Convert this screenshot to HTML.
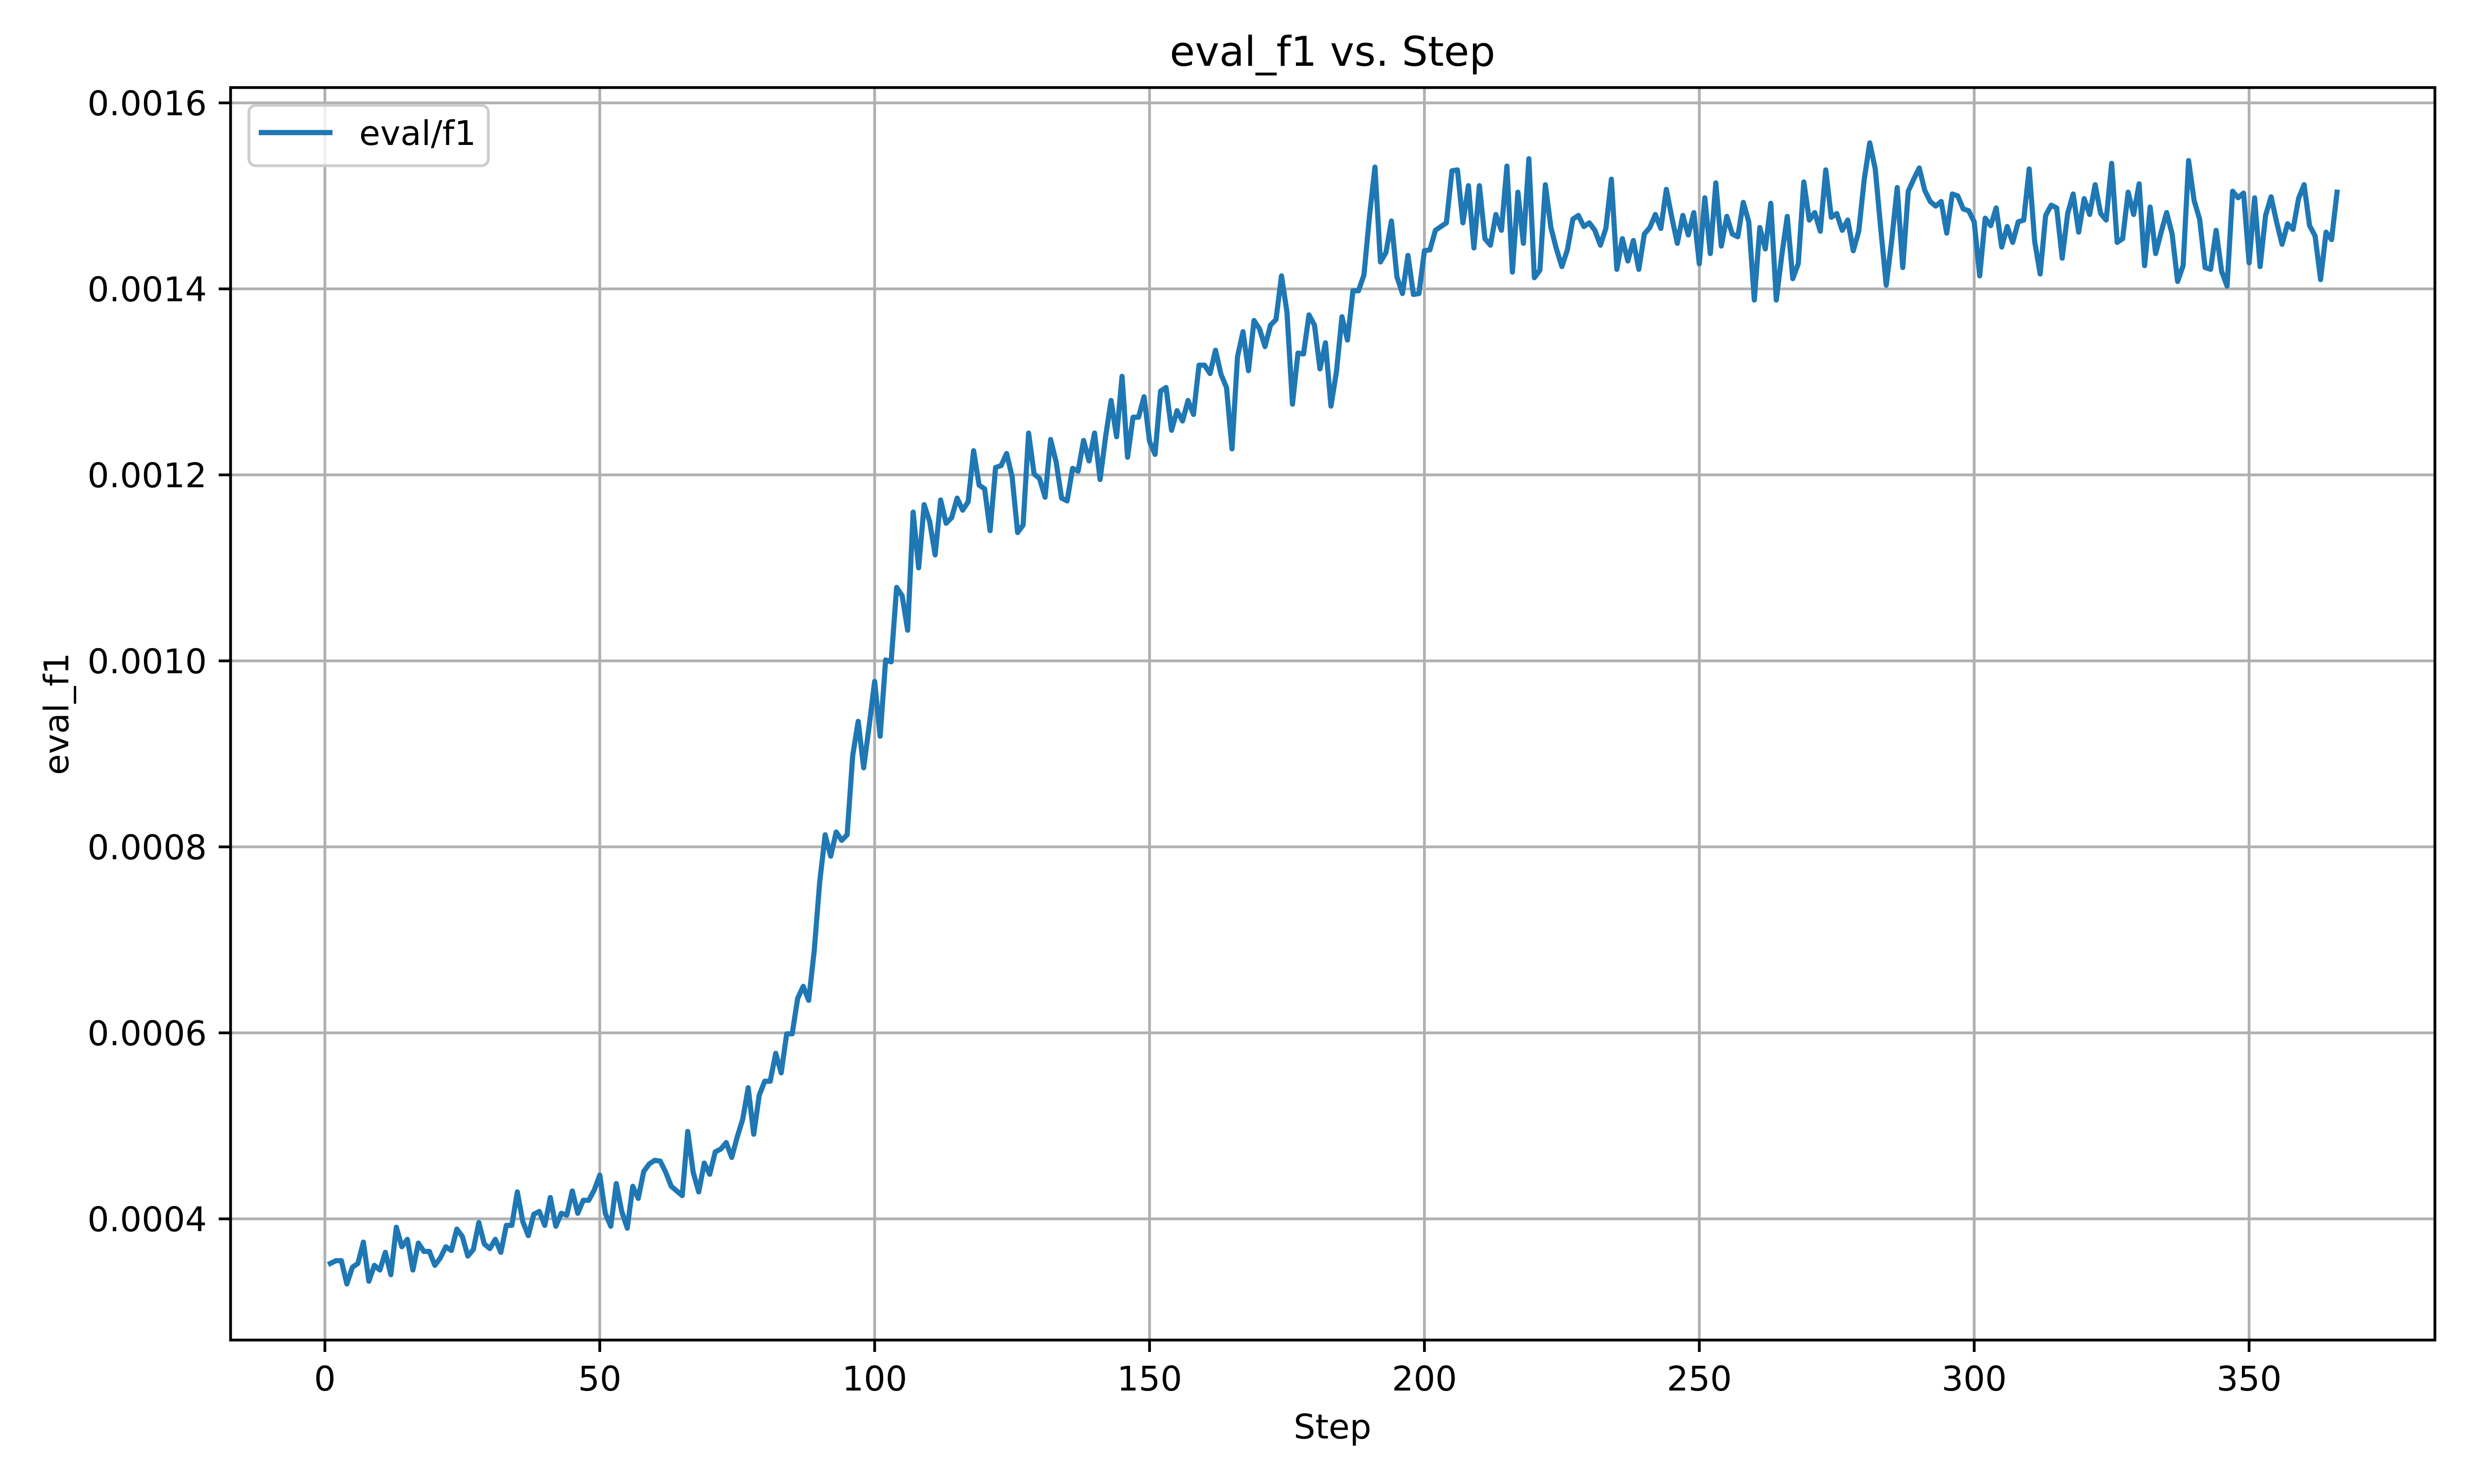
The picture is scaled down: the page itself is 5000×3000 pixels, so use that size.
<!DOCTYPE html>
<html><head><meta charset="utf-8"><style>
html,body{margin:0;padding:0;background:#fff}
svg{display:block}
text{font-family:"DejaVu Sans","Liberation Sans",sans-serif;fill:#000}
</style></head><body>
<svg id="chart" width="5000" height="3000" viewBox="0 0 5000 3000" xmlns="http://www.w3.org/2000/svg">
<rect width="5000" height="3000" fill="#fff"/>
<g id="grid"></g>
<g id="series"></g>
<rect x="466" y="177" width="4455" height="2532" fill="none" stroke="#000" stroke-width="5.6"/>
<g id="xticks"></g>
<g id="yticks"></g>
<text x="2693" y="133" font-size="83" text-anchor="middle">eval_f1 vs. Step</text>
<text x="2693" y="2908" font-size="69" text-anchor="middle">Step</text>
<text x="0" y="0" font-size="69" text-anchor="middle" transform="translate(138,1443) rotate(-90)">eval_f1</text>
<g>
<rect x="503" y="213" width="484" height="122" rx="14" fill="#fff" fill-opacity="0.8" stroke="#cccccc" stroke-width="5.6"/>
<line x1="523" y1="268" x2="672" y2="268" stroke="#1f77b4" stroke-width="10.4"/>
<text x="726" y="293" font-size="69">eval/f1</text>
</g>
</svg>
<script>
const steps0 = 1;
const yTicks = [0.0004,0.0006,0.0008,0.0010,0.0012,0.0014,0.0016];
const yTickLabels = ["0.0004","0.0006","0.0008","0.0010","0.0012","0.0014","0.0016"];
const xTicks = [0,50,100,150,200,250,300,350];
const xTickLabels = ["0","50","100","150","200","250","300","350"];
const f1Values = [
0.000352,0.000355,0.000355,0.000330,0.000348,0.000352,0.000375,0.000333,0.000350,0.000345,
0.000364,0.000340,0.000391,0.000370,0.000378,0.000345,0.000374,0.000365,0.000365,0.000350,
0.000358,0.000370,0.000366,0.000389,0.000381,0.000360,0.000367,0.000396,0.000373,0.000368,
0.000378,0.000364,0.000393,0.000393,0.000429,0.000397,0.000382,0.000405,0.000408,0.000393,
0.000423,0.000392,0.000406,0.000404,0.000430,0.000406,0.000420,0.000420,0.000431,0.000447,
0.000406,0.000392,0.000438,0.000408,0.000390,0.000435,0.000422,0.000451,0.000459,0.000463,
0.000462,0.000450,0.000435,0.000430,0.000425,0.000494,0.000450,0.000429,0.000460,0.000448,
0.000472,0.000475,0.000482,0.000466,0.000488,0.000507,0.000541,0.000491,0.000533,0.000548,
0.000548,0.000578,0.000557,0.000599,0.000599,0.000637,0.000650,0.000635,0.000688,0.000762,
0.000813,0.000790,0.000816,0.000807,0.000813,0.000898,0.000935,0.000885,0.000930,0.000978,
0.000919,0.001001,0.000999,0.001079,0.001070,0.001033,0.001160,0.001100,0.001168,0.001150,
0.001114,0.001173,0.001148,0.001154,0.001175,0.001162,0.001171,0.001226,0.001189,0.001185,
0.001140,0.001208,0.001210,0.001223,0.001198,0.001138,0.001146,0.001245,0.001201,0.001196,
0.001176,0.001238,0.001214,0.001175,0.001172,0.001207,0.001204,0.001237,0.001215,0.001245,
0.001195,0.001241,0.001280,0.001241,0.001306,0.001219,0.001262,0.001262,0.001284,0.001236,
0.001222,0.001290,0.001294,0.001248,0.001269,0.001258,0.001280,0.001265,0.001318,0.001318,
0.001309,0.001334,0.001308,0.001294,0.001228,0.001327,0.001354,0.001312,0.001366,0.001357,
0.001338,0.001361,0.001367,0.001414,0.001375,0.001276,0.001331,0.001330,0.001372,0.001361,
0.001314,0.001342,0.001274,0.001311,0.001370,0.001345,0.001398,0.001398,0.001415,0.001478,
0.001531,0.001429,0.001439,0.001473,0.001413,0.001395,0.001436,0.001394,0.001395,0.001441,
0.001442,0.001463,0.001467,0.001471,0.001527,0.001528,0.001471,0.001511,0.001444,0.001511,
0.001454,0.001447,0.001480,0.001463,0.001532,0.001418,0.001504,0.001449,0.001540,0.001412,
0.001420,0.001512,0.001466,0.001443,0.001424,0.001442,0.001475,0.001479,0.001467,0.001471,
0.001463,0.001447,0.001465,0.001518,0.001421,0.001454,0.001430,0.001452,0.001421,0.001459,
0.001466,0.001480,0.001465,0.001507,0.001477,0.001449,0.001479,0.001458,0.001482,0.001427,
0.001498,0.001438,0.001514,0.001446,0.001478,0.001459,0.001456,0.001493,0.001472,0.001388,
0.001466,0.001443,0.001492,0.001388,0.001436,0.001478,0.001411,0.001427,0.001515,0.001474,
0.001482,0.001462,0.001528,0.001477,0.001481,0.001463,0.001474,0.001441,0.001462,0.001518,
0.001557,0.001529,0.001465,0.001404,0.001452,0.001509,0.001423,0.001505,0.001518,0.001530,
0.001506,0.001494,0.001489,0.001494,0.001460,0.001502,0.001500,0.001486,0.001484,0.001472,
0.001414,0.001476,0.001468,0.001487,0.001445,0.001467,0.001450,0.001472,0.001474,0.001529,
0.001451,0.001416,0.001479,0.001490,0.001487,0.001433,0.001481,0.001502,0.001461,0.001497,
0.001480,0.001512,0.001481,0.001474,0.001535,0.001450,0.001454,0.001504,0.001480,0.001513,
0.001425,0.001488,0.001438,0.001461,0.001482,0.001459,0.001408,0.001425,0.001538,0.001495,
0.001475,0.001423,0.001421,0.001463,0.001419,0.001403,0.001505,0.001498,0.001503,0.001428,
0.001498,0.001424,0.001479,0.001499,0.001472,0.001448,0.001470,0.001464,0.001497,0.001512,
0.001468,0.001457,0.001410,0.001461,0.001453,0.001504
];
const NS = "http://www.w3.org/2000/svg";
const L = 466, R = 4921, T = 177, B = 2709;
function xPos(s){ return 656.6 + s * 11.111; }
function yPos(v){ return 208 + (0.0016 - v) / 0.0002 * 376; }
function mk(tag, attrs){ const e = document.createElementNS(NS, tag); for (const k in attrs) e.setAttribute(k, attrs[k]); return e; }
const grid = document.getElementById('grid');
const xg = document.getElementById('xticks');
const yg = document.getElementById('yticks');
xTicks.forEach((t, i) => {
  const x = xPos(t);
  const gl = mk('line', {x1:x, y1:T, x2:x, y2:B, stroke:'#b0b0b0', 'stroke-width':5.6});
  
  
  grid.appendChild(gl);
  const tk = mk('line', {x1:x, y1:B, x2:x, y2:B+24, stroke:'#000', 'stroke-width':5.6});
  
  
  xg.appendChild(tk);
  const tx = mk('text', {x:x, y:B+102, 'font-size':69, 'text-anchor':'middle'});
  tx.textContent = xTickLabels[i];
  
  
  xg.appendChild(tx);
});
yTicks.forEach((t, i) => {
  const y = yPos(t);
  const gl = mk('line', {x1:L, y1:y, x2:R, y2:y, stroke:'#b0b0b0', 'stroke-width':5.6});
  
  
  grid.appendChild(gl);
  const tk = mk('line', {x1:L-24, y1:y, x2:L, y2:y, stroke:'#000', 'stroke-width':5.6});
  
  
  yg.appendChild(tk);
  const tx = mk('text', {x:L-48, y:y+25, 'font-size':69, 'text-anchor':'end'});
  tx.textContent = yTickLabels[i];
  
  
  yg.appendChild(tx);
});
const pts = f1Values.map((v, i) => xPos(steps0 + i).toFixed(1) + ',' + yPos(v).toFixed(1)).join(' ');
const line = mk('polyline', {points:pts, fill:'none', stroke:'#1f77b4', 'stroke-width':10.4, 'stroke-linejoin':'round', 'stroke-linecap':'square'});


document.getElementById('series').appendChild(line);
</script>
</body></html>
